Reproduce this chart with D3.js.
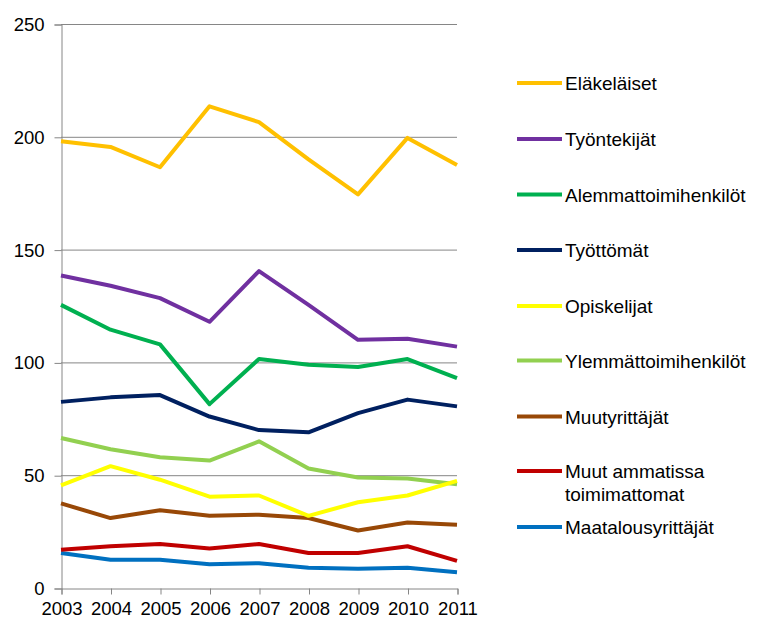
<!DOCTYPE html>
<html>
<head>
<meta charset="utf-8">
<script src="https://cdn.jsdelivr.net/npm/d3@7"></script>
<style>
  body { margin: 0; background: #fff; }
  text { font-family: "Liberation Sans", Arial, sans-serif; }
</style>
</head>
<body>
<script>
const years = [2003, 2004, 2005, 2006, 2007, 2008, 2009, 2010, 2011];
const yTicks = [0, 50, 100, 150, 200, 250];

const elakelaiset   = [198, 195.5, 186.5, 213.5, 206.5, 190, 174.5, 199.5, 187.5];
const tyontekijat   = [138.5, 134, 128.5, 118, 140.5, 125.5, 110, 110.5, 107];
const alemmat       = [125.5, 114.5, 108, 81.5, 101.5, 99, 98, 101.5, 93];
const tyottomat     = [82.5, 84.5, 85.5, 76, 70, 69, 77.5, 83.5, 80.5];
const opiskelijat   = [45.5, 54, 48, 40.5, 41, 32, 38, 41, 47.5];
const ylemmat       = [66.5, 61.5, 58, 56.5, 65, 53, 49, 48.5, 46];
const muutYrittajat = [37.5, 31, 34.5, 32, 32.5, 31, 25.5, 29, 28];
const muutAmmatissa = [17, 18.5, 19.5, 17.5, 19.5, 15.5, 15.5, 18.5, 12];
const maatalous     = [15.5, 12.5, 12.5, 10.5, 11, 9, 8.5, 9, 7];

const series = [
  { name: ['Eläkeläiset'], values: elakelaiset, color: '#ffc000' },
  { name: ['Työntekijät'], values: tyontekijat, color: '#7030a0' },
  { name: ['Alemmattoimihenkilöt'], values: alemmat, color: '#00b050' },
  { name: ['Työttömät'], values: tyottomat, color: '#002060' },
  { name: ['Opiskelijat'], values: opiskelijat, color: '#ffff00' },
  { name: ['Ylemmättoimihenkilöt'], values: ylemmat, color: '#92d050' },
  { name: ['Muutyrittäjät'], values: muutYrittajat, color: '#984807' },
  { name: ['Muut ammatissa', 'toimimattomat'], values: muutAmmatissa, color: '#c00000' },
  { name: ['Maatalousyrittäjät'], values: maatalous, color: '#0070c0' }
];

const w = 762, h = 619;

const svg = d3.select('body')
  .append('svg')
  .attr('width', w)
  .attr('height', h);

const x = d3.scaleLinear().domain([2003, 2011]).range([61, 457]);
const y = d3.scaleLinear().domain([0, 250]).range([588, 24]);

// gridlines
svg.append('g')
  .selectAll('line')
  .data(yTicks.slice(1))
  .enter()
  .append('line')
  .attr('x1', x(2003))
  .attr('x2', x(2011))
  .attr('y1', d => y(d) + 0.5)
  .attr('y2', d => y(d) + 0.5)
  .attr('stroke', '#868686')
  .attr('stroke-width', 1);

const yAxis = d3.axisLeft(y)
  .tickValues(yTicks)
  .tickSize(7)
  .tickPadding(10)
  .tickFormat(d3.format('d'));

const gy = svg.append('g')
  .attr('transform', 'translate(' + (x(2003) + 0.5) + ',0.5)')
  .call(yAxis);

const xAxis = d3.axisBottom(x)
  .tickValues(years)
  .tickSize(6)
  .tickPadding(7)
  .tickFormat(d3.format('d'));

const gx = svg.append('g')
  .attr('transform', 'translate(0.5,' + (y(0) + 0.5) + ')')
  .call(xAxis);

[gx, gy].forEach(g => {
  g.select('.domain').attr('stroke', '#868686');
  g.selectAll('.tick line').attr('stroke', '#868686');
  g.selectAll('.tick text')
    .attr('fill', '#000')
    .style('font-size', '18.5px')
    .style('font-family', '"Liberation Sans", Arial, sans-serif');
});

const line = d3.line()
  .x((d, i) => x(years[i]))
  .y(d => y(d));

svg.append('g')
  .selectAll('path')
  .data(series.slice().reverse())
  .enter()
  .append('path')
  .attr('d', d => line(d.values))
  .attr('fill', 'none')
  .attr('stroke', d => d.color)
  .attr('stroke-width', 4)
  .attr('stroke-linejoin', 'round');

// legend
const legendY = [83, 139, 194.5, 250, 306, 360.5, 416.5, 471, 527];

const legend = svg.append('g')
  .selectAll('g')
  .data(series)
  .enter()
  .append('g')
  .attr('transform', (d, i) => 'translate(517,' + legendY[i] + ')');

legend.append('line')
  .attr('x1', 0)
  .attr('x2', 45)
  .attr('stroke', d => d.color)
  .attr('stroke-width', 4);

legend.each(function (d) {
  const t = d3.select(this).append('text')
    .attr('x', 48)
    .attr('y', 7)
    .attr('fill', '#000')
    .style('font-size', '19px');
  d.name.forEach((s, k) => {
    t.append('tspan')
      .attr('x', 48)
      .attr('dy', k === 0 ? 0 : 23)
      .text(s);
  });
});
</script>
</body>
</html>
